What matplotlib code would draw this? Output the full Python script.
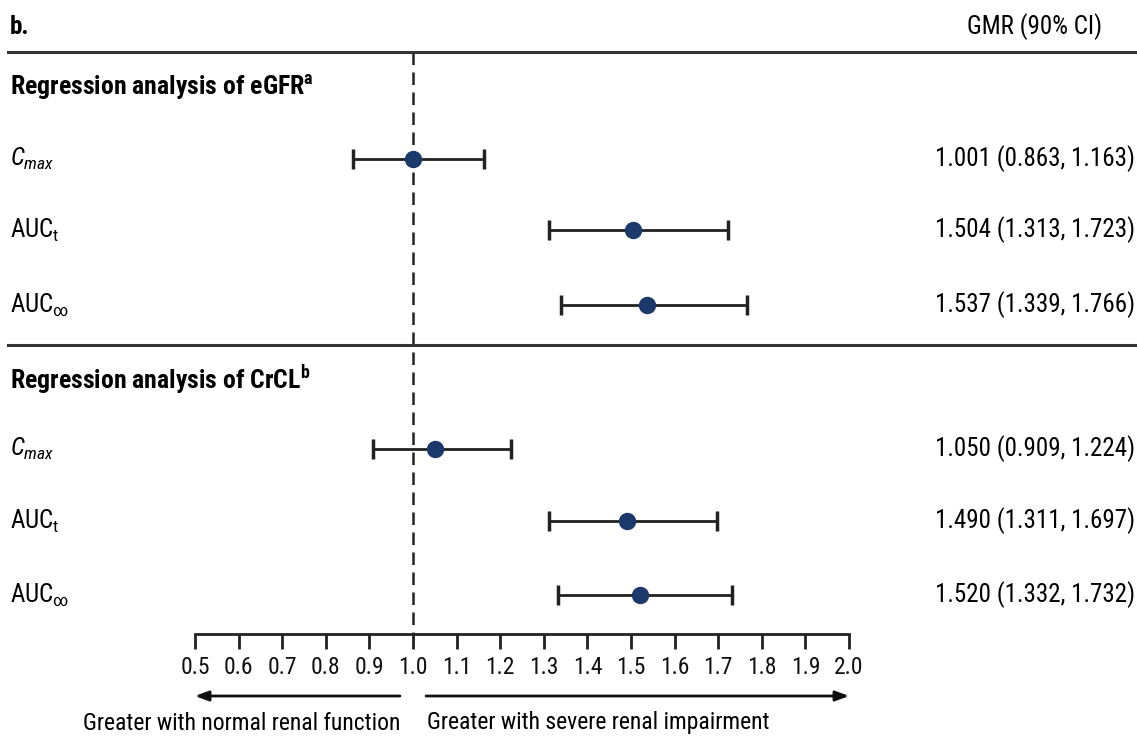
import matplotlib
matplotlib.use("Agg")
import matplotlib.pyplot as plt
from matplotlib import font_manager as fm
import numpy as np

# ---------------- data ----------------
sections = ["Regression analysis of eGFR", "Regression analysis of CrCL"]
section_sup = ["a", "b"]
params = [r"$C_{max}$", r"AUC$_{\mathrm{t}}$", r"AUC$_{\infty}$"]
gmr_egfr = [1.001, 1.504, 1.537]
lo_egfr = [0.863, 1.313, 1.339]
hi_egfr = [1.163, 1.723, 1.766]
gmr_crcl = [1.050, 1.490, 1.520]
lo_crcl = [0.909, 1.311, 1.332]
hi_crcl = [1.224, 1.697, 1.732]
xticks = [0.5, 0.6, 0.7, 0.8, 0.9, 1.0, 1.1, 1.2, 1.3, 1.4, 1.5, 1.6, 1.7, 1.8, 1.9, 2.0]
xticklabels = [f"{t:.1f}" for t in xticks]
left_note = "Greater with normal renal function"
right_note = "Greater with severe renal impairment"
panel_label = "b."
col_header = "GMR (90% CI)"

# ---------------- fonts ----------------
names = {f.name for f in fm.fontManager.ttflist}
fam = "Liberation Sans"
for cand in ["Roboto Condensed", "Archivo Narrow", "PT Sans Narrow", "Liberation Sans Narrow",
             "IBM Plex Sans Condensed", "Open Sans Condensed"]:
    if cand in names:
        fam = cand
        break
plt.rcParams["font.family"] = [fam, "DejaVu Sans"]
plt.rcParams["mathtext.fontset"] = "custom"
plt.rcParams["mathtext.rm"] = fam
plt.rcParams["mathtext.it"] = fam + ":italic"
plt.rcParams["mathtext.bf"] = fam + ":bold"

W, H = 1137, 737
fig = plt.figure(figsize=(W / 100, H / 100), dpi=100)
x0, x1 = 195, 849
ax = fig.add_axes([x0 / W, 0, (x1 - x0) / W, 1])
ax.set_xlim(0.5, 2.0)
ax.set_ylim(H, 0)
ax.patch.set_alpha(0)
for s in ["top", "left", "right"]:
    ax.spines[s].set_visible(False)
ax.spines["bottom"].set_position(("data", 634))
ax.spines["bottom"].set_linewidth(2)
ax.spines["bottom"].set_color("#222222")
ax.set_yticks([])
ax.set_xticks(xticks)
ax.set_xticklabels(xticklabels)
fs = 18
fs_head = 18.5
fs_small = 17
ax.tick_params(axis="x", direction="out", length=10.5, width=2, color="#222222",
               labelsize=fs_small, pad=5.5, labelcolor="#111111")

dark = "#222222"
navy = "#1B3A6B"
fx = lambda px: px / W  # figure x fraction

# horizontal separator lines
for yy in [52, 345]:
    fig.add_artist(plt.Line2D([fx(8), 1], [1 - yy / H, 1 - yy / H], color="#333333", lw=2.2))

# dashed reference line
ax.plot([1.0, 1.0], [52, 634], color=dark, lw=1.8, ls=(0, (5, 3)), clip_on=False)

fig.text(fx(10), 1 - 27 / H, panel_label, fontsize=fs, fontweight="bold", va="center", ha="left")
fig.text(fx(1035), 1 - 27 / H, col_header, fontsize=fs, va="center", ha="center")

rows_y = [[159, 230, 305], [449, 521, 595]]
head_y = [88, 380]
data = [(gmr_egfr, lo_egfr, hi_egfr), (gmr_crcl, lo_crcl, hi_crcl)]
for si in range(2):
    fig.text(fx(10), 1 - head_y[si] / H,
             sections[si] + r"$^{\mathbf{" + section_sup[si] + "}}$",
             fontsize=fs_head, fontweight="bold", va="center", ha="left")
    g, lo, hi = data[si]
    for ri in range(3):
        y = rows_y[si][ri]
        fig.text(fx(10), 1 - y / H, params[ri], fontsize=fs, va="center", ha="left",
                 style="italic" if ri == 0 else "normal")
        ax.errorbar(g[ri], y, xerr=[[g[ri] - lo[ri]], [hi[ri] - g[ri]]], fmt="o",
                    color=navy, ecolor=dark, elinewidth=2, capsize=7, capthick=2.5,
                    markersize=11.5, zorder=5, clip_on=False)
        fig.text(fx(1135), 1 - y / H, f"{g[ri]:.3f} ({lo[ri]:.3f}, {hi[ri]:.3f})",
                 fontsize=fs, va="center", ha="right")

# direction arrows
arrow_y = 696
ax.annotate("", xy=(0.5, arrow_y), xytext=(0.97, arrow_y), annotation_clip=False,
            arrowprops=dict(arrowstyle="-|>,head_length=0.8,head_width=0.3", color="#111111",
                            lw=2, shrinkA=0, shrinkB=0))
ax.annotate("", xy=(2.0, arrow_y), xytext=(1.03, arrow_y), annotation_clip=False,
            arrowprops=dict(arrowstyle="-|>,head_length=0.8,head_width=0.3", color="#111111",
                            lw=2, shrinkA=0, shrinkB=0))
fig.text(fx(400), 1 - 723 / H, left_note, fontsize=fs_small, va="center", ha="right")
fig.text(fx(427), 1 - 723 / H, right_note, fontsize=fs_small, va="center", ha="left")

fig.savefig("out.png", dpi=100)
